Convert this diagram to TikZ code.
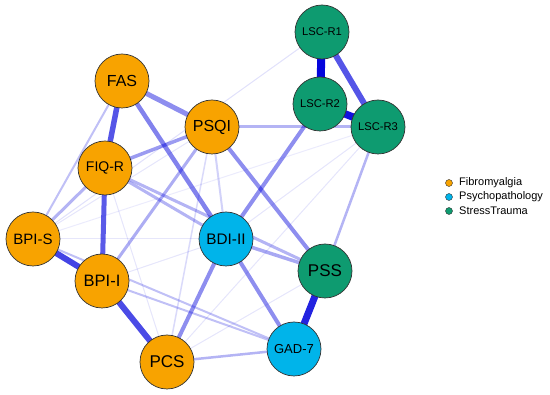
\documentclass[tikz,border=0pt]{standalone}
\usepackage{fontspec}
\setmainfont{Liberation Sans}
\pgfdeclarelayer{edges}
\pgfsetlayers{edges,main}
\definecolor{fib}{HTML}{F8A300}
\definecolor{psy}{HTML}{00B4EA}
\definecolor{strc}{HTML}{0E9B70}
\definecolor{eb}{HTML}{0505DC}
\tikzset{
  vnode/.style={circle, draw=black!80, line width=0.7pt, minimum size=54pt, inner sep=0pt},
  fs/.style={font=\fontsize{#1}{#1}\selectfont},
  ed/.style 2 args={line width=#1pt, draw=eb, draw opacity=#2},
  legdot/.style={circle, draw=black!80, line width=0.4pt, minimum size=7pt, inner sep=0pt},
  legtxt/.style={anchor=west, inner sep=0pt, font=\fontsize{11}{11}\selectfont}
}
\begin{document}
\begin{tikzpicture}[x=1pt,y=-1pt]
\useasboundingbox (0,0) rectangle (550,395);
% nodes
\node[vnode, fill=fib, fs=16] (FAS) at (122,81) {FAS};
\node[vnode, fill=fib, fs=16] (PSQI) at (212,127) {PSQI};
\node[vnode, fill=fib, fs=14] (FIQR) at (105,168) {FIQ-R};
\node[vnode, fill=fib, fs=15] (BPIS) at (33,239) {BPI-S};
\node[vnode, fill=fib, fs=16.5] (BPII) at (102,281) {BPI-I};
\node[vnode, fill=fib, fs=17] (PCS) at (167,362) {PCS};
\node[vnode, fill=psy, fs=15.3] (BDI) at (226,239) {BDI-II};
\node[vnode, fill=psy, fs=13] (GAD) at (294,349) {GAD-7};
\node[vnode, fill=strc, fs=17] (PSS) at (325,271) {PSS};
\node[vnode, fill=strc, fs=11.2] (R1) at (322,32) {LSC-R1};
\node[vnode, fill=strc, fs=11.2] (R2) at (320,104) {LSC-R2};
\node[vnode, fill=strc, fs=11.2] (R3) at (378,127) {LSC-R3};
% legend
\node[legdot, fill=fib] (l1) at (449,183) {};
\node[legdot, fill=psy] (l2) at (449,197) {};
\node[legdot, fill=strc] (l3) at (449,211) {};
\node[legtxt] (t1) at (459,183) {Fibromyalgia};
\node[legtxt] (t2) at (459,197) {Psychopathology};
\node[legtxt] (t3) at (459,211) {StressTrauma};
\begin{pgfonlayer}{edges}
% faint
\draw[ed={1}{0.12}] (BPIS.center) -- (R1.center);
\draw[ed={1}{0.10}] (BPIS.center) -- (PSQI.center);
\draw[ed={1}{0.10}] (BPIS.center) -- (BDI.center);
\draw[ed={1}{0.08}] (BPIS.center) -- (R3.center);
\draw[ed={1}{0.10}] (PCS.center) -- (R3.center);
\draw[ed={1}{0.10}] (PCS.center) -- (PSS.center);
\draw[ed={1}{0.10}] (BPII.center) -- (BDI.center);
\draw[ed={1}{0.10}] (BDI.center) -- (R3.center);
\draw[ed={1}{0.10}] (FIQR.center) -- (PCS.center);
\draw[ed={1.5}{0.15}] (PSQI.center) -- (PCS.center);
\draw[ed={2}{0.18}] (PSQI.center) -- (BDI.center);
% light
\draw[ed={2}{0.25}] (FAS.center) -- (BPIS.center);
\draw[ed={2}{0.25}] (BPIS.center) -- (GAD.center);
\draw[ed={2}{0.25}] (BPII.center) -- (GAD.center);
\draw[ed={2.5}{0.3}] (PCS.center) -- (GAD.center);
\draw[ed={2.5}{0.3}] (R3.center) -- (PSS.center);
\draw[ed={3}{0.3}] (PSQI.center) -- (R3.center);
\draw[ed={3}{0.33}] (PSQI.center) -- (BPII.center);
\draw[ed={3}{0.3}] (BPIS.center) -- (FIQR.center);
\draw[ed={3}{0.3}] (FIQR.center) -- (BDI.center);
\draw[ed={3}{0.3}] (FIQR.center) -- (PSS.center);
\draw[ed={3.5}{0.35}] (BDI.center) -- (PSS.center);
% medium
\draw[ed={3.5}{0.4}] (FIQR.center) -- (PSQI.center);
\draw[ed={4}{0.45}] (PCS.center) -- (BDI.center);
\draw[ed={4}{0.45}] (BDI.center) -- (R2.center);
\draw[ed={4}{0.45}] (BDI.center) -- (GAD.center);
\draw[ed={4}{0.45}] (PSQI.center) -- (PSS.center);
\draw[ed={4.5}{0.5}] (FAS.center) -- (BDI.center);
\draw[ed={5}{0.45}] (FAS.center) -- (PSQI.center);
% strong
\draw[ed={5}{0.66}] (FIQR.center) -- (BPII.center);
\draw[ed={5.5}{0.68}] (FAS.center) -- (FIQR.center);
\draw[ed={6}{0.72}] (BPII.center) -- (PCS.center);
\draw[ed={6}{0.75}] (BPIS.center) -- (BPII.center);
\draw[ed={6}{0.68}] (R1.center) -- (R3.center);
\draw[ed={7}{0.88}] (PSS.center) -- (GAD.center);
\draw[ed={7.5}{0.95}] (R2.center) -- (R3.center);
\draw[ed={8}{1}] (R1.center) -- (R2.center);
\end{pgfonlayer}
\end{tikzpicture}
\end{document}
